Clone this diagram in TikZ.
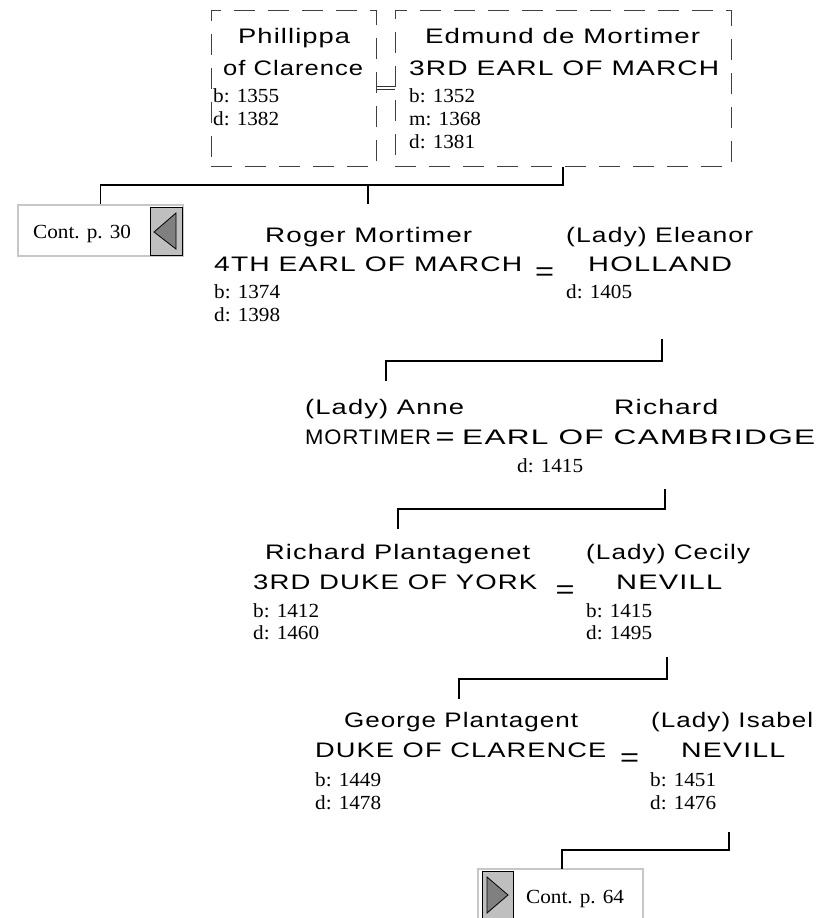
\documentclass[tikz,border=0pt]{standalone}
\usepackage{fontspec}
\usepackage{graphicx}
\newfontfamily\sansw[LetterSpace=4]{Liberation Sans}
\newfontfamily\sanseq{Liberation Sans}
\newfontfamily\serw[FakeStretch=1.06]{Liberation Serif}
\newcommand{\fw}[2]{\resizebox{#1pt}{\height}{#2}}
\begin{document}
\begin{tikzpicture}[x=1pt,y=-1pt,
  nm/.style={font=\sansw\fontsize{21}{23}\selectfont, inner sep=0pt, anchor=base west},
  dt/.style={font=\serw\fontsize{20}{22}\selectfont, inner sep=0pt, anchor=base west},
  eqs/.style={font=\sanseq\fontsize{26}{26}\selectfont, inner sep=0pt, anchor=base},
  conn/.style={line width=1.9pt, black},
  dashbox/.style={draw=black!75, line width=1pt, dash pattern=on 21pt off 13pt, inner sep=0pt},
  contframe/.style={draw=black!22, line width=1.5pt, fill=white, inner sep=0pt, minimum width=165pt, minimum height=51pt},
  btn/.style={fill=black!25, draw=black, line width=0.8pt},
  tri/.style={fill=black!50, draw=black, line width=0.8pt, line join=miter}
]
\useasboundingbox (0,0) rectangle (823,918);

% top couple
\node[dashbox, minimum width=165pt, minimum height=156pt] (pbox) at (293.5,88) {};
\node[dashbox, minimum width=336pt, minimum height=156pt] (ebox) at (563,88) {};
\draw[black!80, line width=0.8pt, double, double distance=2.5pt] (pbox.east) -- (ebox.west);
\node[nm] (phil1) at (238,43) {\fw{112}{Phillippa}};
\node[nm] (phil2) at (223,75) {\fw{140}{of Clarence}};
\node[dt] (philb) at (213,102) {b: 1355};
\node[dt] (phild) at (213,125) {d: 1382};
\node[nm] (edm1) at (425,43) {\fw{275}{Edmund de Mortimer}};
\node[nm] (edm2) at (409,75) {\fw{310}{3RD EARL OF MARCH}};
\node[dt] (edmb) at (409,102) {b: 1352};
\node[dt] (edmm) at (409,125) {m: 1368};
\node[dt] (edmd) at (409,148) {d: 1381};

% Cont. p. 30
\node[contframe] (c30) at (100.5,230.5) {};
\node[dt] (c30t) at (33,238) {Cont. p. 30};
\draw[btn] (150,207) rectangle (182,255);
\draw[tri] (154,232) -- (176,213) -- (176,249) -- cycle;

% Roger row
\node[nm] (rog1) at (265,242) {\fw{207}{Roger Mortimer}};
\node[nm] (rog2) at (214,271) {\fw{308}{4TH EARL OF MARCH}};
\node[dt] (rogb) at (214,298) {b: 1374};
\node[dt] (rogd) at (214,321) {d: 1398};
\node[eqs] (eq1) at (544.5,280.2) {\fw{19}{=}};
\node[nm] (ele1) at (566,242) {\fw{187}{(Lady) Eleanor}};
\node[nm] (ele2) at (588,271) {\fw{144}{HOLLAND}};
\node[dt] (eled) at (566,298) {d: 1405};

% Anne row
\node[nm] (ann1) at (305,414) {\fw{159}{(Lady) Anne}};
\node[nm] (ann2) at (305,444) {\fw{126}{MORTIMER}};
\node[eqs] (eq2) at (445,445.7) {\fw{19}{=}};
\node[nm] (ric1) at (614,414) {\fw{104}{Richard}};
\node[nm] (ric2) at (462,444) {\fw{353}{EARL OF CAMBRIDGE}};
\node[dt] (ricd) at (517,472) {d: 1415};

% Richard Plantagenet row
\node[nm] (rp1) at (265,559) {\fw{265}{Richard Plantagenet}};
\node[nm] (rp2) at (253,589) {\fw{284}{3RD DUKE OF YORK}};
\node[eqs] (eq3) at (565,598.2) {\fw{19}{=}};
\node[dt] (rpb) at (253,617) {b: 1412};
\node[dt] (rpd) at (253,639) {d: 1460};
\node[nm] (cec1) at (586,559) {\fw{164}{(Lady) Cecily}};
\node[nm] (cec2) at (616,589) {\fw{106}{NEVILL}};
\node[dt] (cecb) at (586,617) {b: 1415};
\node[dt] (cecd) at (586,639) {d: 1495};

% George row
\node[nm] (geo1) at (344,727) {\fw{234}{George Plantagent}};
\node[nm] (geo2) at (315,757) {\fw{291}{DUKE OF CLARENCE}};
\node[eqs] (eq4) at (629.5,766.2) {\fw{19}{=}};
\node[dt] (geob) at (315,786) {b: 1449};
\node[dt] (geod) at (315,809) {d: 1478};
\node[nm] (isa1) at (651,727) {\fw{162}{(Lady) Isabel}};
\node[nm] (isa2) at (681,757) {\fw{104}{NEVILL}};
\node[dt] (isab) at (650,786) {b: 1451};
\node[dt] (isad) at (650,809) {d: 1476};

% Cont. p. 64
\node[contframe, minimum height=58pt] (c64) at (560.5,898) {};
\node[dt] (c64t) at (526,903) {Cont. p. 64};
\draw[btn] (482,871) rectangle (513,930);
\draw[tri] (487,877) -- (487,913) -- (508,895) -- cycle;

% connectors
\coordinate (k1) at (563,185);
\coordinate (k1m) at (368,185);
\coordinate (t1) at (368,204);
\draw[conn] (ebox.south -| k1) -- (k1) -| (c30.north);
\draw[conn] (k1m) -- (t1);

\coordinate (s2) at (662,339);
\coordinate (t2) at (386,381);
\draw[conn] (s2) |- (t2 |- 0,361) -- (t2);

\coordinate (s3) at (665,489);
\coordinate (t3) at (398,529);
\draw[conn] (s3) |- (t3 |- 0,509) -- (t3);

\coordinate (s4) at (667,657);
\coordinate (t4) at (459,699);
\draw[conn] (s4) |- (t4 |- 0,679) -- (t4);

\coordinate (s5) at (729,832);
\coordinate (t5) at (562,869);
\draw[conn] (s5) |- (t5 |- 0,850) -- (t5);
\end{tikzpicture}
\end{document}
